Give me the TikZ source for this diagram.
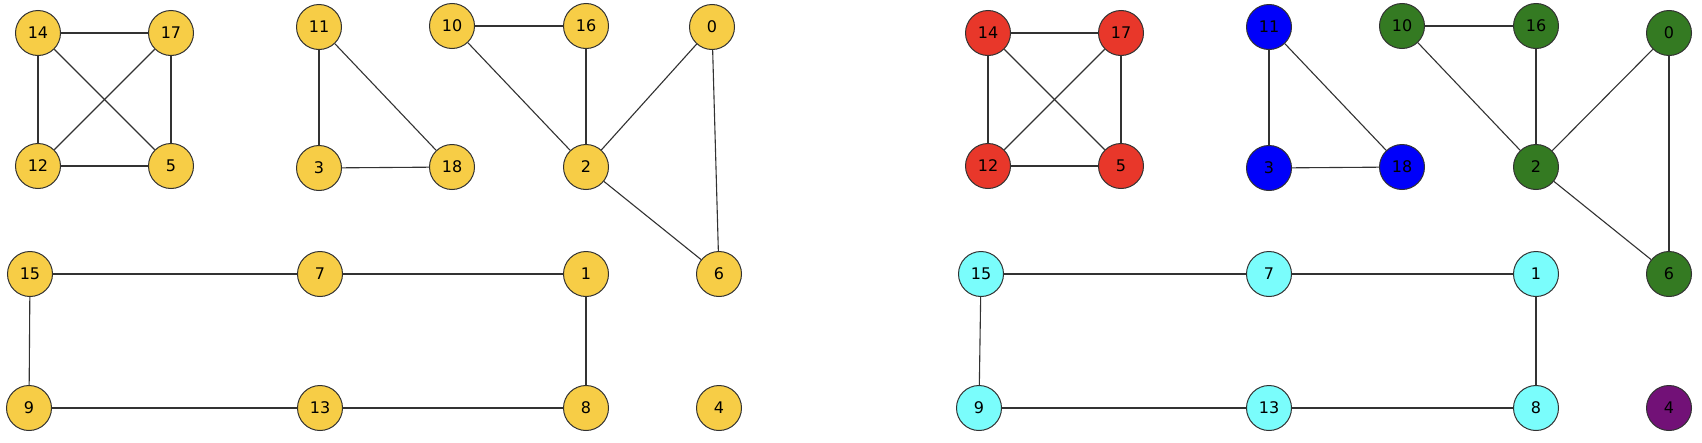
\documentclass[tikz,border=0pt]{standalone}
\usepackage{fontspec}
\setmainfont{DejaVu Sans}
\definecolor{vyellow}{RGB}{247,205,70}
\definecolor{vred}{RGB}{232,55,42}
\definecolor{vblue}{RGB}{0,0,250}
\definecolor{vgreen}{RGB}{52,122,34}
\definecolor{vcyan}{RGB}{122,253,252}
\definecolor{vpurple}{RGB}{114,17,119}
\definecolor{vline}{RGB}{50,50,50}
\begin{document}
\begin{tikzpicture}[x=1pt, y=-1pt,
    vertex/.style={draw=vline, line width=1pt, circle, minimum size=45pt, inner sep=0pt, font=\fontsize{16}{18}\selectfont},
    edge/.style={draw=vline, line width=1.1pt}]
                    \useasboundingbox (0,0) rectangle (1702,442);
                    % uncoloured graph
                    \node at (38,33) [vertex, fill=vyellow] (a14) {14};
                    \node at (171,33) [vertex, fill=vyellow] (a17) {17};
                    \node at (38,166) [vertex, fill=vyellow] (a12) {12};
                    \node at (171,166) [vertex, fill=vyellow] (a5) {5};
                    \node at (319,27) [vertex, fill=vyellow] (a11) {11};
                    \node at (319,168) [vertex, fill=vyellow] (a3) {3};
                    \node at (452,167) [vertex, fill=vyellow] (a18) {18};
                    \node at (452,26) [vertex, fill=vyellow] (a10) {10};
                    \node at (586,26) [vertex, fill=vyellow] (a16) {16};
                    \node at (712,27) [vertex, fill=vyellow] (a0) {0};
                    \node at (586,167) [vertex, fill=vyellow] (a2) {2};
                    \node at (719,274) [vertex, fill=vyellow] (a6) {6};
                    \node at (30,274) [vertex, fill=vyellow] (a15) {15};
                    \node at (320,274) [vertex, fill=vyellow] (a7) {7};
                    \node at (586,274) [vertex, fill=vyellow] (a1) {1};
                    \node at (29,408) [vertex, fill=vyellow] (a9) {9};
                    \node at (320,408) [vertex, fill=vyellow] (a13) {13};
                    \node at (586,408) [vertex, fill=vyellow] (a8) {8};
                    \node at (719,408) [vertex, fill=vyellow] (a4) {4};
                    \draw [edge] (a14) -- (a17);
                    \draw [edge] (a14) -- (a12);
                    \draw [edge] (a14) -- (a5);
                    \draw [edge] (a17) -- (a12);
                    \draw [edge] (a17) -- (a5);
                    \draw [edge] (a12) -- (a5);
                    \draw [edge] (a11) -- (a3);
                    \draw [edge] (a11) -- (a18);
                    \draw [edge] (a3) -- (a18);
                    \draw [edge] (a10) -- (a16);
                    \draw [edge] (a10) -- (a2);
                    \draw [edge] (a16) -- (a2);
                    \draw [edge] (a0) -- (a2);
                    \draw [edge] (a0) -- (a6);
                    \draw [edge] (a2) -- (a6);
                    \draw [edge] (a15) -- (a7);
                    \draw [edge] (a7) -- (a1);
                    \draw [edge] (a1) -- (a8);
                    \draw [edge] (a8) -- (a13);
                    \draw [edge] (a13) -- (a9);
                    \draw [edge] (a9) -- (a15);
                    % coloured graph, one colour per component
                    \node at (988,33) [vertex, fill=vred] (b14) {14};
                    \node at (1121,33) [vertex, fill=vred] (b17) {17};
                    \node at (988,166) [vertex, fill=vred] (b12) {12};
                    \node at (1121,166) [vertex, fill=vred] (b5) {5};
                    \node at (1269,27) [vertex, fill=vblue] (b11) {11};
                    \node at (1269,168) [vertex, fill=vblue] (b3) {3};
                    \node at (1402,167) [vertex, fill=vblue] (b18) {18};
                    \node at (1402,26) [vertex, fill=vgreen] (b10) {10};
                    \node at (1536,26) [vertex, fill=vgreen] (b16) {16};
                    \node at (1669,33) [vertex, fill=vgreen] (b0) {0};
                    \node at (1536,167) [vertex, fill=vgreen] (b2) {2};
                    \node at (1669,274) [vertex, fill=vgreen] (b6) {6};
                    \node at (981,274) [vertex, fill=vcyan] (b15) {15};
                    \node at (1269,274) [vertex, fill=vcyan] (b7) {7};
                    \node at (1536,274) [vertex, fill=vcyan] (b1) {1};
                    \node at (979,408) [vertex, fill=vcyan] (b9) {9};
                    \node at (1269,408) [vertex, fill=vcyan] (b13) {13};
                    \node at (1536,408) [vertex, fill=vcyan] (b8) {8};
                    \node at (1669,408) [vertex, fill=vpurple] (b4) {4};
                    \draw [edge] (b14) -- (b17);
                    \draw [edge] (b14) -- (b12);
                    \draw [edge] (b14) -- (b5);
                    \draw [edge] (b17) -- (b12);
                    \draw [edge] (b17) -- (b5);
                    \draw [edge] (b12) -- (b5);
                    \draw [edge] (b11) -- (b3);
                    \draw [edge] (b11) -- (b18);
                    \draw [edge] (b3) -- (b18);
                    \draw [edge] (b10) -- (b16);
                    \draw [edge] (b10) -- (b2);
                    \draw [edge] (b16) -- (b2);
                    \draw [edge] (b0) -- (b2);
                    \draw [edge] (b0) -- (b6);
                    \draw [edge] (b2) -- (b6);
                    \draw [edge] (b15) -- (b7);
                    \draw [edge] (b7) -- (b1);
                    \draw [edge] (b1) -- (b8);
                    \draw [edge] (b8) -- (b13);
                    \draw [edge] (b13) -- (b9);
                    \draw [edge] (b9) -- (b15);
                \end{tikzpicture}
\end{document}
